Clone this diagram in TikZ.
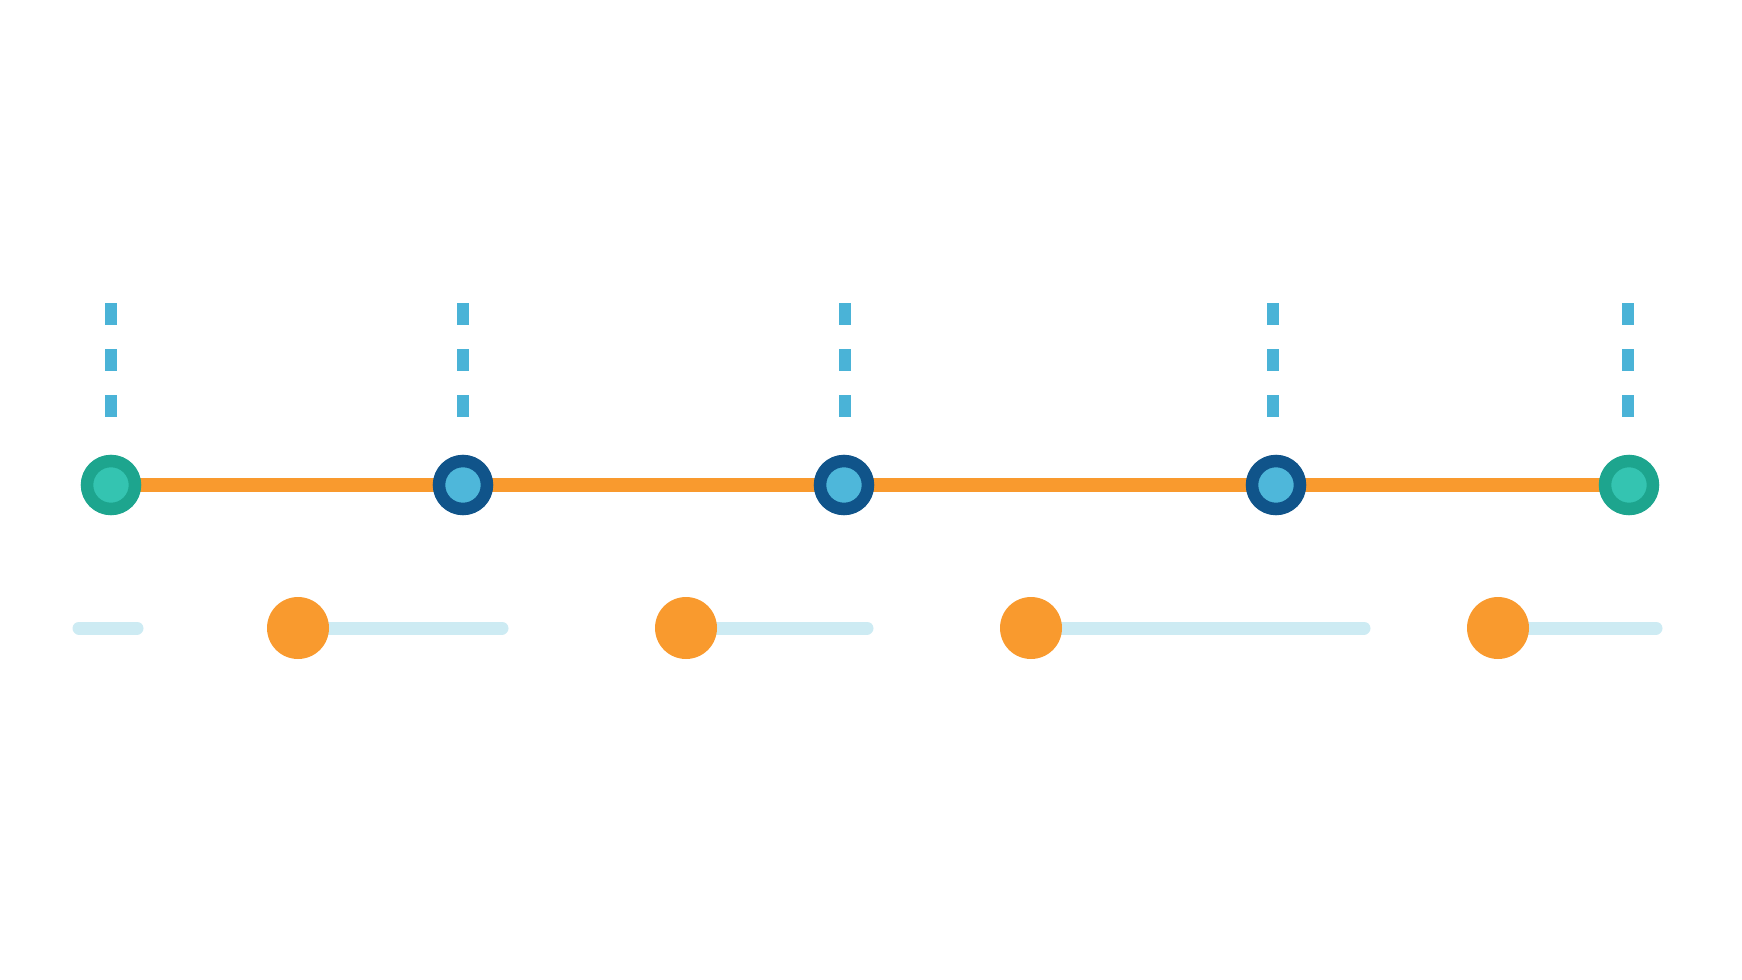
\documentclass[tikz,border=0pt]{standalone}
\usetikzlibrary{backgrounds}
\definecolor{tealout}{HTML}{1DA58E}
\definecolor{tealin}{HTML}{34C4B1}
\definecolor{navy}{HTML}{10548A}
\definecolor{skyin}{HTML}{4EB7DA}
\definecolor{dashblue}{HTML}{4AB3D7}
\definecolor{orng}{HTML}{F99A2E}
\definecolor{pale}{HTML}{CDEBF3}
\tikzset{
  endnode/.style={circle, inner sep=0pt, minimum size=24pt, line width=6.25pt, draw=tealout, fill=tealin},
  midnode/.style={circle, inner sep=0pt, minimum size=24pt, line width=6.25pt, draw=navy, fill=skyin},
  dot/.style={circle, inner sep=0pt, minimum size=31pt, fill=orng},
  tick/.style={draw=dashblue, line width=6pt, dash pattern=on 11pt off 12pt},
  mainline/.style={draw=orng, line width=7pt},
  paleline/.style={draw=pale, line width=6.5pt, line cap=round}
}
\begin{document}
\begin{tikzpicture}[x=0.5pt,y=-0.5pt]
\useasboundingbox (0,0) rectangle (1742,980);
% top row nodes
\node[endnode] (n1) at (111,485) {};
\node[midnode] (n2) at (463,485) {};
\node[midnode] (n3) at (844,485) {};
\node[midnode] (n4) at (1276,485) {};
\node[endnode] (n5) at (1629,485) {};
\begin{pgfonlayer}{background}
\draw[mainline] (n1.center) -- (n2.center) -- (n3.center) -- (n4.center) -- (n5.center);
\end{pgfonlayer}
% dashed ticks
\foreach \i/\x in {1/111,2/463,3/845,4/1273,5/1628}{
  \coordinate (t\i) at (\x,303);
  \coordinate (b\i) at (\x,418);
  \draw[tick] (t\i) -- (b\i);
}
% bottom row
\coordinate (s0) at (79,628);
\coordinate (e0) at (137,628);
\draw[paleline] (s0) -- (e0);
\foreach \i/\x/\e in {1/298/502,2/686/867,3/1031/1364,4/1498/1656}{
  \node[dot] (d\i) at (\x,628) {};
  \coordinate (e\i) at (\e,628);
  \begin{pgfonlayer}{background}
  \draw[paleline] (d\i.center) -- (e\i);
  \end{pgfonlayer}
}
\end{tikzpicture}
\end{document}
